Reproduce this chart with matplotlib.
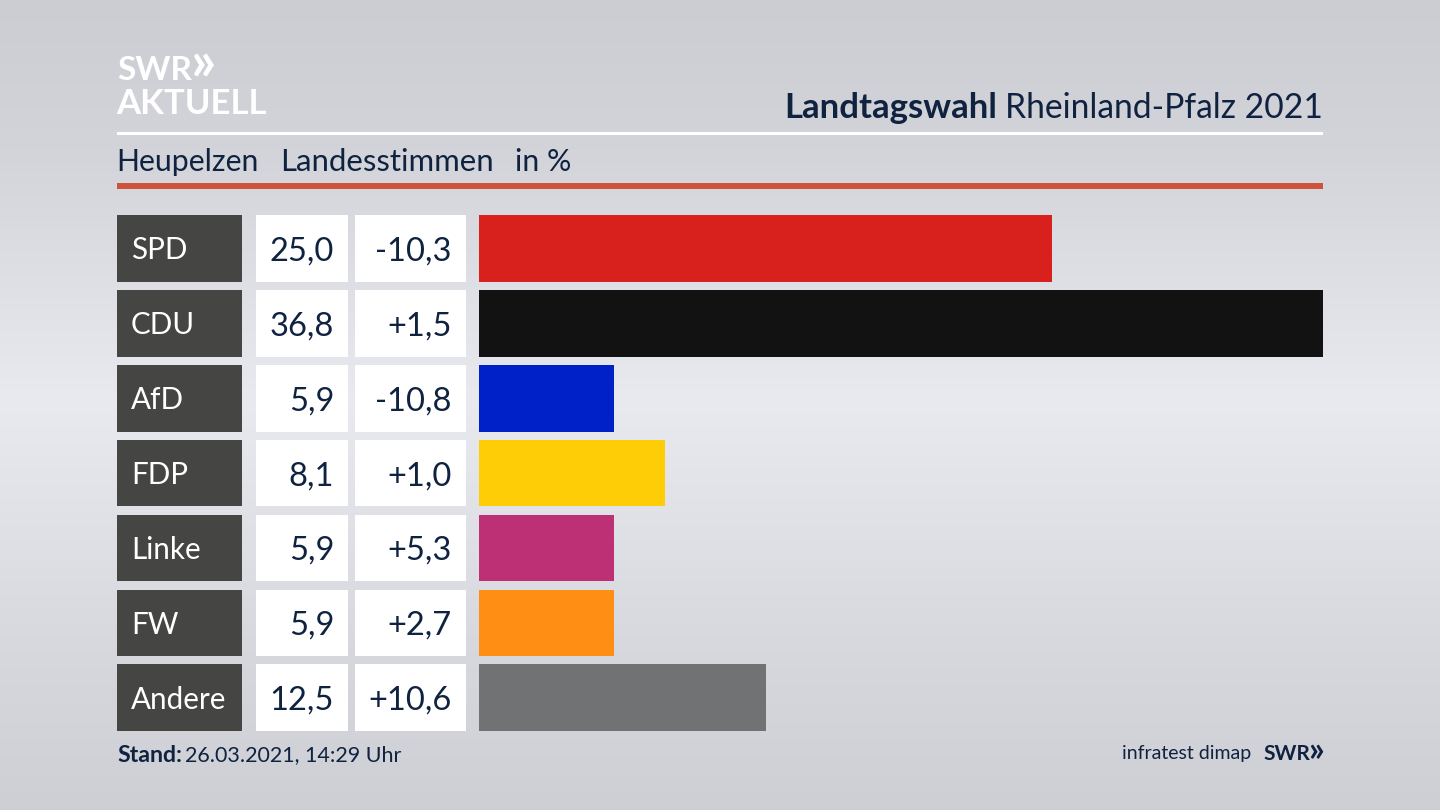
import numpy as np
import matplotlib
matplotlib.use('Agg')
import matplotlib.pyplot as plt
from matplotlib.patches import Rectangle

parties = ['SPD', 'CDU', 'AfD', 'FDP', 'Linke', 'FW', 'Andere']
shares = [25.0, 36.8, 5.9, 8.1, 5.9, 5.9, 12.5]
changes = ['-10,3', '+1,5', '-10,8', '+1,0', '+5,3', '+2,7', '+10,6']
colors = ['#d8201c', '#121212', '#0021c8', '#ffcd05', '#bd3075', '#ff8f14', '#717274']

NAVY = '#0f2240'
W, H = 1440, 810

plt.rcParams['font.family'] = ['Lato', 'DejaVu Sans']

fig = plt.figure(figsize=(W / 100, H / 100), dpi=100)

# whole figure in pixel coordinates, y pointing down
bg = fig.add_axes([0, 0, 1, 1])
bg.set_xlim(0, W)
bg.set_ylim(H, 0)
bg.axis('off')

# background gradient, lightest around the middle
stops_y = [0, 150, 400, 650, 810]
stops_c = [205, 212, 234, 216, 207]
col = np.interp(np.arange(H), stops_y, stops_c)
grad = np.stack([col - 1, col, col + 5], axis=1)[:, None, :] / 255
bg.imshow(np.clip(grad, 0, 1), extent=[0, W, H, 0], aspect='auto', zorder=0)

# logo
bg.text(117, 71, 'SWR', color='white', fontsize=24, fontweight='bold', va='center', ha='left')
bg.text(191, 63, '»', color='white', fontsize=40, fontweight='bold', va='center', ha='left')
bg.text(116, 104, 'AKTUELL', color='white', fontsize=25, fontweight='bold', va='center', ha='left')

# heading
fig.canvas.draw()
renderer = fig.canvas.get_renderer()
t = bg.text(1323, 108, 'Rheinland-Pfalz 2021', color=NAVY, fontsize=24.2, va='center', ha='right')
x0 = bg.transData.inverted().transform(t.get_window_extent(renderer).get_points())[0, 0]
bg.text(x0 - 8, 108, 'Landtagswahl', color=NAVY, fontsize=25, fontweight='bold', va='center', ha='right')

bg.add_patch(Rectangle((117, 132), 1206, 3, color='white', lw=0))
bg.add_patch(Rectangle((117, 183), 1206, 6, color='#cf523a', lw=0))

bg.text(116, 162, 'Heupelzen', color=NAVY, fontsize=21.8, va='center', ha='left')
bg.text(280, 162, 'Landesstimmen', color=NAVY, fontsize=22.4, va='center', ha='left')
bg.text(515, 162, 'in %', color=NAVY, fontsize=21.8, va='center', ha='left')

# table cells left of the bars
row_top = 215
row_step = 74.9
row_h = 66.7
for i, party in enumerate(parties):
    y = row_top + i * row_step
    mid = y + row_h / 2
    bg.add_patch(Rectangle((117, y), 124.5, row_h, color='#454543', lw=0))
    bg.add_patch(Rectangle((256, y), 92, row_h, color='white', lw=0))
    bg.add_patch(Rectangle((355, y), 111, row_h, color='white', lw=0))
    bg.text(131, mid + 2, party, color='white', fontsize=21.3, va='center', ha='left')
    bg.text(334, mid + 3, f'{shares[i]:.1f}'.replace('.', ','), color=NAVY, fontsize=23.5, va='center', ha='right')
    bg.text(451.5, mid + 3, changes[i], color=NAVY, fontsize=23.5, va='center', ha='right')

# bars
top = row_top + row_h / 2 - row_step / 2
ax = fig.add_axes([479 / W, 1 - (top + 7 * row_step) / H, (1323 - 479) / W, 7 * row_step / H])
ax.patch.set_alpha(0)
ax.barh(range(len(parties)), shares, height=row_h / row_step, color=colors)
ax.set_xlim(0, max(shares))
ax.set_ylim(len(parties) - 0.5, -0.5)
ax.axis('off')

# footer
t2 = bg.text(117, 755, 'Stand:', color=NAVY, fontsize=16.7, fontweight='bold', va='center', ha='left')
x1 = bg.transData.inverted().transform(t2.get_window_extent(renderer).get_points())[1, 0]
bg.text(x1 + 3, 755, '26.03.2021, 14:29 Uhr', color=NAVY, fontsize=15.5, va='center', ha='left')
bg.text(1251, 754, 'infratest dimap', color=NAVY, fontsize=14, va='center', ha='right')
bg.text(1263, 754, 'SWR', color=NAVY, fontsize=15, fontweight='bold', va='center', ha='left')
bg.text(1324, 751, '»', color=NAVY, fontsize=25, fontweight='bold', va='center', ha='right')

fig.savefig('out.png', dpi=100)
